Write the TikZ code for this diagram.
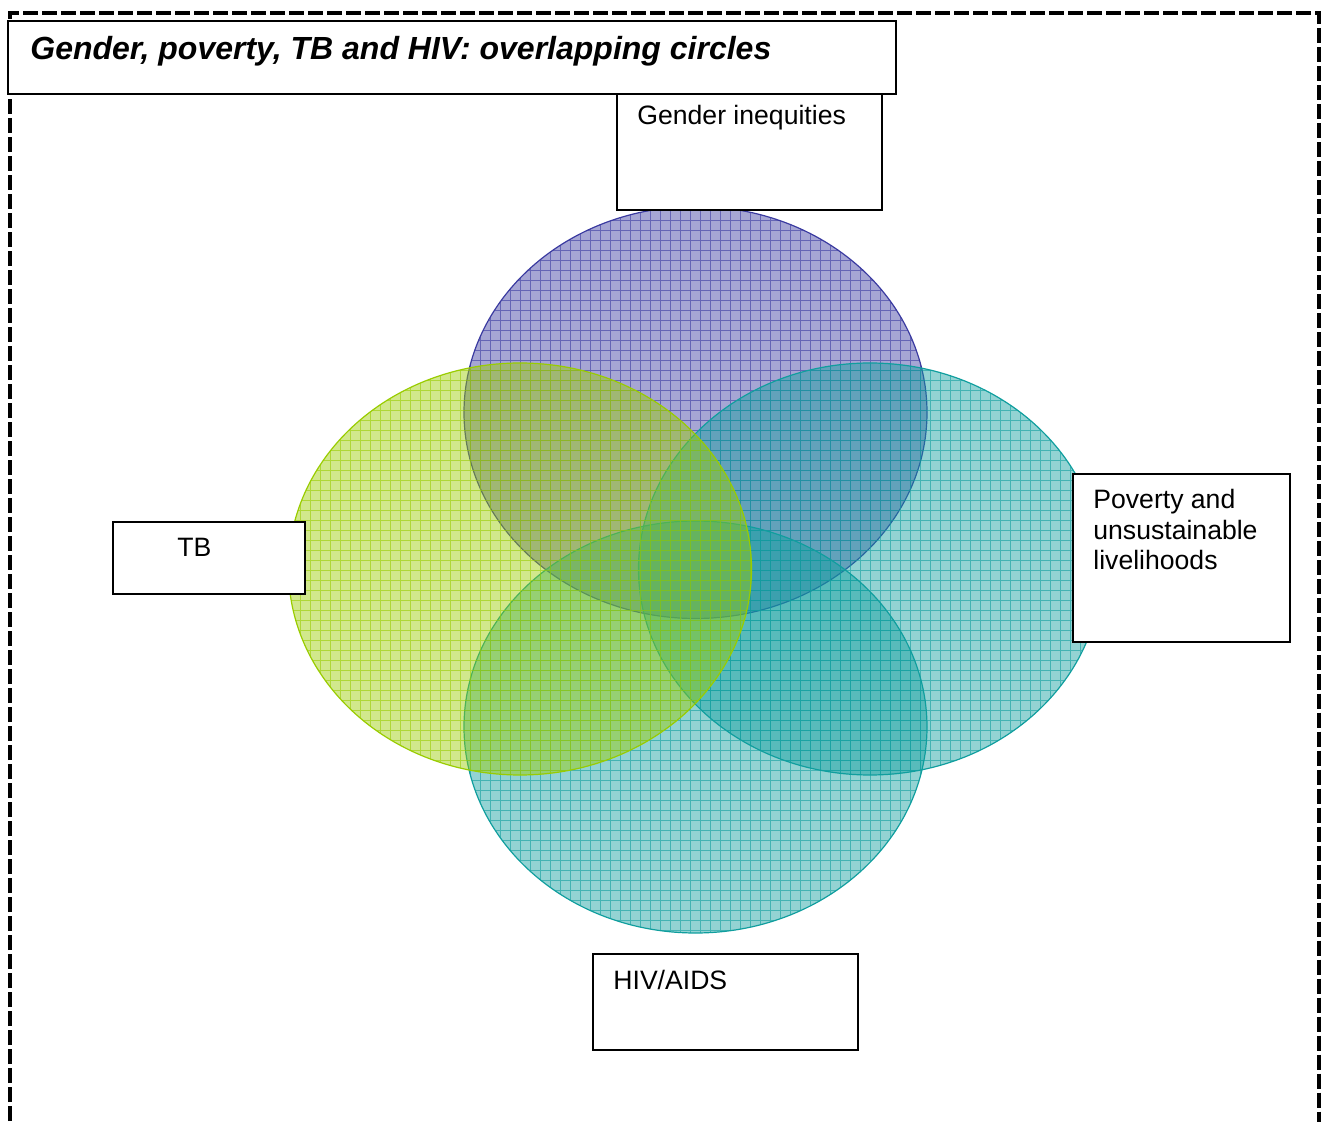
\documentclass[tikz,border=0pt]{standalone}
\usepackage{fontspec}
\setmainfont{Liberation Sans}
\tikzset{>=latex}
\definecolor{gendc}{RGB}{58,58,160}
\definecolor{tbc}{RGB}{153,204,0}
\definecolor{povc}{RGB}{16,158,158}
\tikzset{
  labelbox/.style={draw, line width=1pt, fill=white, anchor=north west, inner sep=0pt},
  labeltxt/.style={anchor=base west, inner sep=0pt, align=left, font=\fontsize{13.3}{15.25}\selectfont},
}
% one shaded ring: colour, centre x, centre y
\newcommand*{\ring}[3]{%
  \begin{scope}
    \clip (#2,#3) ellipse [x radius=115.75pt, y radius=103pt];
    \fill[#1, fill opacity=.45] (#2,#3) ellipse [x radius=115.75pt, y radius=103pt];
    \draw[#1, line width=.45pt, opacity=.6, step=5pt] (0,0) grid (1328,1122);
  \end{scope}
  \draw[#1, line width=.6pt] (#2,#3) ellipse [x radius=115.75pt, y radius=103pt];
}

\begin{document}
\begin{tikzpicture}[x=.5pt, y=-.5pt]
    \useasboundingbox (0,0) rectangle (1328,1122);
    \draw[line width=2pt, dash pattern=on 7.5pt off 2pt](9.5,1140)--(9.5,13.5)--(1319,13.5)--(1319,1140);
    \ring{gendc}{695.5}{412.5}
    \ring{povc}{870}{569}
    \ring{povc}{695.5}{727}
    \ring{tbc}{520}{569}
    \node[labelbox, minimum width=444pt, minimum height=36.5pt](titlebox)at(7, 20){};
    \node[labeltxt, font=\fontsize{16}{18}\selectfont\bfseries\itshape](title)at(30, 60){Gender, poverty, TB and HIV: overlapping circles};
    \node[labelbox, minimum width=132.5pt, minimum height=58pt](genderbox)at(616, 93){};
    \node[labeltxt](gender)at(637, 125){Gender inequities};
    \node[labelbox, minimum width=96pt, minimum height=36pt](tbbox)at(112, 521){};
    \node[labeltxt](tb)at(177, 557){TB};
    \node[labelbox, minimum width=108.5pt, minimum height=84pt](povbox)at(1072, 473){};
    \node[labeltxt](pov)at(1093, 570){Poverty and\\unsustainable\\livelihoods};
    \node[labelbox, minimum width=132.5pt, minimum height=48pt](hivbox)at(592, 953){};
    \node[labeltxt](hiv)at(613, 989){HIV/AIDS};
\end{tikzpicture}
\end{document}
